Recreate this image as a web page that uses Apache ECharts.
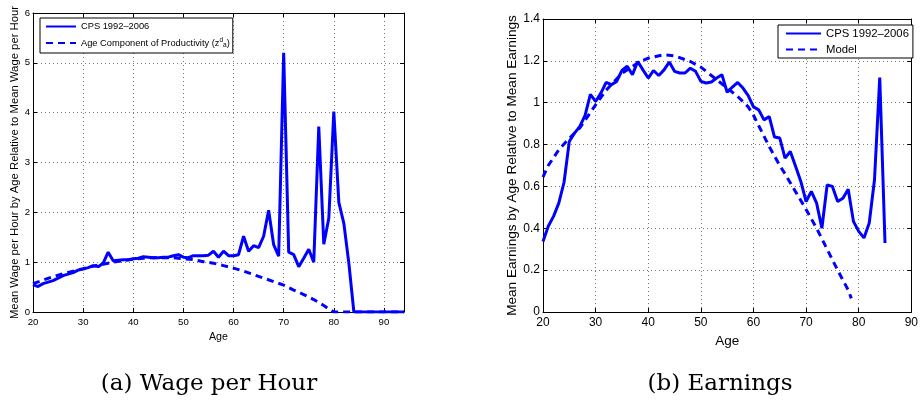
<!DOCTYPE html>
<html>
<head>
<meta charset="utf-8">
<script src="https://cdn.jsdelivr.net/npm/echarts@6/dist/echarts.min.js"></script>
<style>
html,body{margin:0;padding:0;background:#fff;}
#c{width:921px;height:401px;}
</style>
</head>
<body>
<div id="c"></div>
<script>
// ---- Panel (a): Wage per Hour ----
const wageAges = [20,21,22,23,24,25,26,27,28,29,30,31,32,33,34,35,36,37,38,39,40,41,42,43,44,45,46,47,48,49,50,51,52,53,54,55,56,57,58,59,60,61,62,63,64,65,66,67,68,69,70,71,72,73,74,75,76,77,78,79,80,81,82,83,84,85,86,87,88,89,90,91,92,93,94];
const wageCPS = [0.55,0.51,0.57,0.60,0.63,0.68,0.73,0.76,0.79,0.84,0.86,0.89,0.93,0.91,0.98,1.20,1.03,1.04,1.05,1.05,1.07,1.08,1.11,1.10,1.09,1.09,1.10,1.10,1.13,1.15,1.10,1.09,1.13,1.13,1.13,1.14,1.22,1.10,1.22,1.13,1.13,1.15,1.52,1.22,1.33,1.29,1.52,2.04,1.35,1.12,5.20,1.20,1.15,0.91,1.08,1.26,1.00,3.72,1.36,1.88,4.02,2.20,1.78,0.98,0,0,0,0,0,0,0,0,0,0,0];
const wageModelAges = [20,22,24,26,28,30,32,34,36,38,40,42,44,46,48,50,52,54,56,58,60,62,64,66,68,70,72,74,76,78,79,80,94];
const wageModel = [0.57,0.64,0.71,0.77,0.82,0.87,0.92,0.96,1.00,1.03,1.06,1.08,1.09,1.09,1.09,1.07,1.05,1.01,0.98,0.93,0.88,0.82,0.75,0.68,0.61,0.54,0.44,0.35,0.25,0.13,0.06,0,0];

// ---- Panel (b): Earnings ----
const earnAges = [20,21,22,23,24,25,26,27,28,29,30,31,32,33,34,35,36,37,38,39,40,41,42,43,44,45,46,47,48,49,50,51,52,53,54,55,56,57,58,59,60,61,62,63,64,65,66,67,68,69,70,71,72,73,74,75,76,77,78,79,80,81,82,83,84,85];
const earnCPS = [0.337,0.41,0.457,0.52,0.62,0.815,0.855,0.887,0.94,1.04,1.006,1.046,1.097,1.086,1.102,1.154,1.174,1.134,1.197,1.157,1.118,1.154,1.13,1.157,1.194,1.15,1.142,1.142,1.165,1.15,1.102,1.094,1.099,1.118,1.134,1.05,1.075,1.097,1.07,1.034,0.98,0.966,0.918,0.934,0.836,0.831,0.735,0.767,0.696,0.624,0.528,0.576,0.52,0.40,0.607,0.60,0.528,0.544,0.587,0.433,0.385,0.354,0.425,0.632,1.12,0.33];
const earnModelAges = [20,21,23,25,27,30,32,35,38,40,43,45,48,50,52,55,57,59,60,61,63,65,66,68,70,72,74,76,78,78.6];
const earnModel = [0.645,0.70,0.775,0.83,0.88,0.99,1.06,1.14,1.19,1.213,1.229,1.224,1.197,1.17,1.13,1.07,1.03,0.98,0.94,0.89,0.79,0.70,0.66,0.575,0.49,0.40,0.30,0.20,0.105,0.065];

// tick settings / labels
const wageXTicks = {min:20, max:94, interval:10};
const wageYTicks = {min:0, max:6, interval:1};
const earnXTicks = {min:20, max:90, interval:10};
const earnYTicks = {min:0, max:1.4, interval:0.2};
const captions = ['(a) Wage per Hour', '(b) Earnings'];
const cpsName = 'CPS 1992\u20132006';
const ageCompName = 'Age Component of Productivity (z';
const modelName = 'Model';

const pairs = (xs, ys) => xs.map((x, i) => [x, ys[i]]);
const BLUE = '#0000ff';
const FONT = 'Liberation Sans';
const gridLine = {show:true, lineStyle:{type:[1,3], color:'#7a7a7a', width:1}};

function mainX(g, t, fs, nameFs, nameGap, showMax){
  return {gridIndex:g, type:'value', position:'bottom', min:t.min, max:t.max, interval:t.interval,
    axisLine:{show:true, onZero:false, lineStyle:{color:'#000', width:1}},
    axisTick:{show:true, inside:true, length:4, lineStyle:{color:'#000'}},
    axisLabel:{show:true, color:'#000', fontSize:fs, fontFamily:FONT, margin:5, showMaxLabel:showMax, showMinLabel:true},
    splitLine:gridLine,
    name:'Age', nameLocation:'middle', nameGap:nameGap, nameTextStyle:{color:'#000', fontSize:nameFs, fontFamily:FONT}};
}
function mirrorX(g, t){
  return {gridIndex:g, type:'value', position:'top', min:t.min, max:t.max, interval:t.interval,
    axisLine:{show:true, onZero:false, lineStyle:{color:'#000', width:1}},
    axisTick:{show:true, inside:true, length:4, lineStyle:{color:'#000'}},
    axisLabel:{show:false}, splitLine:{show:false}};
}
function mainY(g, t, fs, name, nameFs, nameGap){
  return {gridIndex:g, type:'value', position:'left', min:t.min, max:t.max, interval:t.interval,
    axisLine:{show:true, onZero:false, lineStyle:{color:'#000', width:1}},
    axisTick:{show:true, inside:true, length:4, lineStyle:{color:'#000'}},
    axisLabel:{show:true, color:'#000', fontSize:fs, fontFamily:FONT, margin:3},
    splitLine:gridLine,
    name:name, nameLocation:'middle', nameGap:nameGap, nameTextStyle:{color:'#000', fontSize:nameFs, fontFamily:FONT}};
}
function mirrorY(g, t){
  return {gridIndex:g, type:'value', position:'right', min:t.min, max:t.max, interval:t.interval,
    axisLine:{show:true, onZero:false, lineStyle:{color:'#000', width:1}},
    axisTick:{show:true, inside:true, length:4, lineStyle:{color:'#000'}},
    axisLabel:{show:false}, splitLine:{show:false}};
}

const chart = echarts.init(document.getElementById('c'), null, {renderer:'canvas'});
const option = {
  animation:false,
  backgroundColor:'#fff',
  grid:[
    {left:33, top:13, width:371, height:299, containLabel:false},
    {left:543, top:19, width:373, height:293, containLabel:false}
  ],
  xAxis:[
    mainX(0, wageXTicks, 9.6, 10.7, 12, false),
    mirrorX(0, wageXTicks),
    mainX(1, earnXTicks, 12, 13.5, 10, true),
    mirrorX(1, earnXTicks)
  ],
  yAxis:[
    mainY(0, wageYTicks, 9.6, 'Mean Wage per Hour by Age Relative to Mean Wage per Hour', 11.3, 10),
    mirrorY(0, wageYTicks),
    mainY(1, earnYTicks, 12, 'Mean Earnings by Age Relative to Mean Earnings', 13.6, 24),
    mirrorY(1, earnYTicks)
  ],
  legend:[
    {
      data:[cpsName, ageCompName], orient:'vertical', left:40, top:18,
      itemWidth:30, itemHeight:10, itemGap:6, padding:[4,3,4,5],
      borderColor:'#000', borderWidth:1, backgroundColor:'#fff', borderRadius:0,
      itemStyle:{opacity:0, borderWidth:0},
      textStyle:{color:'#000', fontSize:9.3, fontFamily:FONT,
        rich:{
          n:{fontSize:9.3, fontFamily:FONT, color:'#000', lineHeight:12},
          sup:{fontSize:6.5, fontFamily:FONT, color:'#000', verticalAlign:'top', lineHeight:12},
          sub:{fontSize:6.5, fontFamily:FONT, color:'#000', verticalAlign:'bottom', lineHeight:12}
        }},
      formatter:function(n){
        if(n === ageCompName){ return '{n|' + ageCompName + '}{sup|d}{sub|a}{n|)}'; }
        return '{n|' + n + '}';
      },
      selectedMode:false
    },
    {
      data:[cpsName, modelName], orient:'vertical', left:778, top:25,
      itemWidth:35, itemHeight:10, itemGap:5, padding:[3,4,3,7],
      borderColor:'#000', borderWidth:1, backgroundColor:'#fff', borderRadius:0,
      itemStyle:{opacity:0, borderWidth:0},
      textStyle:{color:'#000', fontSize:11.3, fontFamily:FONT},
      selectedMode:false
    }
  ],
  series:[
    {name:cpsName, type:'line', xAxisIndex:0, yAxisIndex:0, data:pairs(wageAges, wageCPS),
      symbol:'none', lineStyle:{color:BLUE, width:3}, itemStyle:{color:BLUE}, clip:true, z:3},
    {name:ageCompName, type:'line', xAxisIndex:0, yAxisIndex:0, data:pairs(wageModelAges, wageModel),
      symbol:'none', lineStyle:{color:BLUE, width:3, type:[7,5]}, itemStyle:{color:BLUE}, clip:true, z:2},
    {name:cpsName, type:'line', xAxisIndex:2, yAxisIndex:2, data:pairs(earnAges, earnCPS),
      symbol:'none', lineStyle:{color:BLUE, width:3}, itemStyle:{color:BLUE}, clip:true, z:3},
    {name:modelName, type:'line', xAxisIndex:2, yAxisIndex:2, data:pairs(earnModelAges, earnModel),
      symbol:'none', lineStyle:{color:BLUE, width:3, type:[7,5]}, itemStyle:{color:BLUE}, clip:true, z:2}
  ],
  graphic:[
    {type:'text', x:209, y:373, style:{text:captions[0], fill:'#000', font:'23px "DejaVu Serif"', textAlign:'center', textVerticalAlign:'top'}},
    {type:'text', x:720, y:373, style:{text:captions[1], fill:'#000', font:'23px "DejaVu Serif"', textAlign:'center', textVerticalAlign:'top'}}
  ]
};
chart.setOption(option);
</script>
</body>
</html>
